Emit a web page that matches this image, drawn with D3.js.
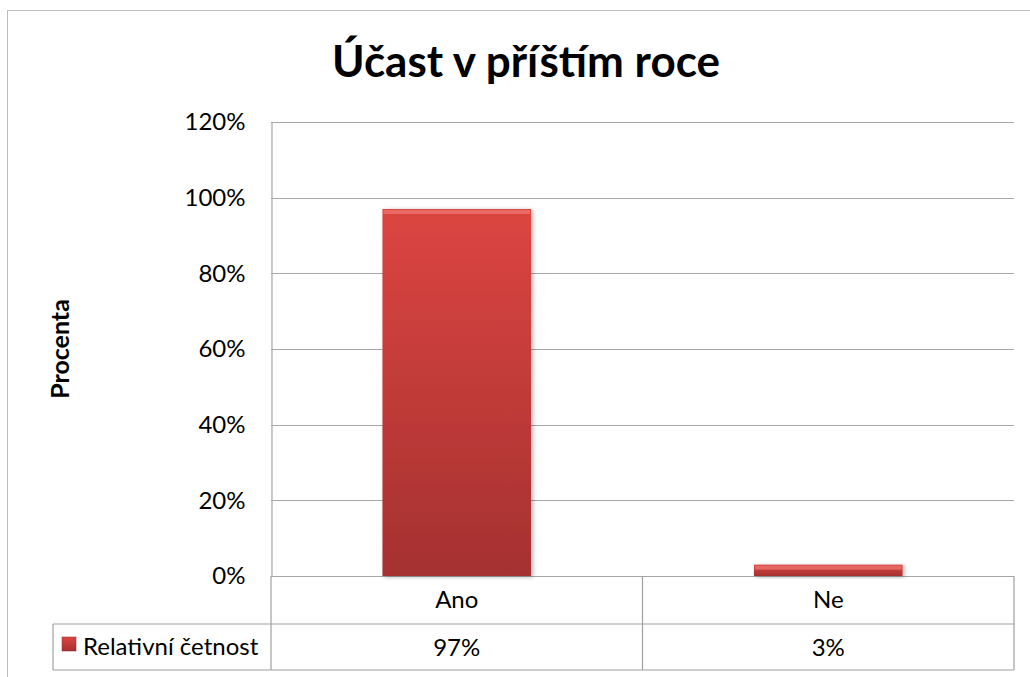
<!DOCTYPE html>
<html>
<head>
<meta charset="utf-8">
<script src="https://cdn.jsdelivr.net/npm/d3@7"></script>
<style>
  body { margin: 0; background: #fff; }
  svg text { font-family: Lato, "Open Sans", sans-serif; fill: #000; }
</style>
</head>
<body>
<script>
// data
const categories = ["Ano", "Ne"];
const values = [0.97, 0.03];
const valueLabels = ["97%", "3%"];
const seriesName = "Relativní četnost";
const yTicks = [0, 0.2, 0.4, 0.6, 0.8, 1.0, 1.2];

const width = 1030, height = 677;
const plot = { left: 271, right: 1014, top: 122, bottom: 576 };
const rowH = 46;

const svg = d3.select("body").append("svg")
  .attr("width", width)
  .attr("height", height);

const defs = svg.append("defs");
const grad = defs.append("linearGradient")
  .attr("id", "barGrad").attr("x1", 0).attr("y1", 0).attr("x2", 0).attr("y2", 1);
grad.append("stop").attr("offset", "0%").attr("stop-color", "#dc4541");
grad.append("stop").attr("offset", "100%").attr("stop-color", "#a53131");

const shadow = defs.append("filter").attr("id", "shadow")
  .attr("x", "-10%").attr("y", "-10%").attr("width", "130%").attr("height", "130%");
shadow.append("feDropShadow")
  .attr("dx", 2).attr("dy", 1).attr("stdDeviation", 2)
  .attr("flood-color", "#000").attr("flood-opacity", 0.3);

// outer frame (mostly clipped)
svg.append("rect")
  .attr("x", 7.5).attr("y", 10.5)
  .attr("width", 1200).attr("height", 1200)
  .attr("fill", "none").attr("stroke", "#bdbdbd");

const x = d3.scaleBand()
  .domain(categories)
  .range([plot.left, plot.right])
  .paddingInner(0.6).paddingOuter(0.3);

const xCell = d3.scaleBand()
  .domain(categories)
  .range([plot.left, plot.right]);

const y = d3.scaleLinear()
  .domain([0, 1.2])
  .range([plot.bottom, plot.top]);

// gridlines
svg.append("g")
  .selectAll("line")
  .data(yTicks)
  .join("line")
  .attr("x1", plot.left).attr("x2", plot.right)
  .attr("y1", d => Math.round(y(d)) + 0.5)
  .attr("y2", d => Math.round(y(d)) + 0.5)
  .attr("stroke", "#a6a6a6").attr("stroke-width", 1.2);

// y axis
const yAxis = svg.append("g")
  .attr("transform", `translate(${plot.left + 0.5},0)`)
  .call(d3.axisLeft(y).tickValues(yTicks).tickFormat(d3.format(".0%")).tickSize(0).tickPadding(26));
yAxis.select(".domain").attr("stroke", "#a6a6a6").attr("stroke-width", 1.2);
yAxis.selectAll("text")
  .style("font-size", "24px")
  .style("font-family", "Lato, 'Open Sans', sans-serif");

// bars
const bars = svg.append("g").selectAll("g")
  .data(values)
  .join("g");

bars.append("rect")
  .attr("x", (d, i) => x(categories[i]))
  .attr("y", d => y(d))
  .attr("width", x.bandwidth())
  .attr("height", d => y(0) - y(d))
  .attr("fill", "url(#barGrad)")
  .attr("filter", "url(#shadow)");

// bevel highlight on top edge
bars.append("rect")
  .attr("x", (d, i) => x(categories[i]) + 1)
  .attr("y", d => y(d) + 1)
  .attr("width", x.bandwidth() - 2)
  .attr("height", d => Math.min(4, y(0) - y(d) - 2))
  .attr("fill", "#f07a74")
  .attr("opacity", 0.7);

// data table
const table = svg.append("g")
  .attr("fill", "none")
  .attr("stroke", "#a0a0a0")
  .attr("stroke-width", 1.2);

const tableTop = plot.bottom, rowMid = tableTop + rowH + 2, tableBottom = rowMid + rowH;
const legendLeft = 53;

table.append("line").attr("x1", plot.left).attr("x2", plot.left).attr("y1", tableTop).attr("y2", tableBottom);
table.append("line").attr("x1", plot.right).attr("x2", plot.right).attr("y1", tableTop).attr("y2", tableBottom);
table.append("line").attr("x1", xCell("Ne")).attr("x2", xCell("Ne")).attr("y1", tableTop).attr("y2", tableBottom);
table.append("line").attr("x1", legendLeft).attr("x2", plot.right).attr("y1", rowMid).attr("y2", rowMid);
table.append("line").attr("x1", legendLeft).attr("x2", plot.right).attr("y1", tableBottom).attr("y2", tableBottom);
table.append("line").attr("x1", legendLeft).attr("x2", legendLeft).attr("y1", rowMid).attr("y2", tableBottom);

svg.append("g").selectAll("text")
  .data(categories)
  .join("text")
  .attr("x", d => xCell(d) + xCell.bandwidth() / 2)
  .attr("y", tableTop + rowH / 2 + 9)
  .attr("text-anchor", "middle")
  .style("font-size", "24px")
  .text(d => d);

svg.append("g").selectAll("text")
  .data(valueLabels)
  .join("text")
  .attr("x", (d, i) => xCell(categories[i]) + xCell.bandwidth() / 2)
  .attr("y", rowMid + rowH / 2 + 9)
  .attr("text-anchor", "middle")
  .style("font-size", "24px")
  .text(d => d);

// legend key
svg.append("rect")
  .attr("x", 62).attr("y", 637)
  .attr("width", 14).attr("height", 14)
  .attr("fill", "url(#barGrad)")
  .attr("stroke", "#8a2a2a").attr("stroke-width", 0.5);

svg.append("text")
  .attr("x", 83).attr("y", rowMid + rowH / 2 + 8)
  .style("font-size", "24px")
  .text(seriesName);

// title
svg.append("text")
  .attr("x", 526).attr("y", 77)
  .attr("text-anchor", "middle")
  .style("font-size", "44px")
  .style("font-weight", "bold")
  .text("Účast v příštím roce");

// y axis title
svg.append("text")
  .attr("transform", `translate(69,${(plot.top + plot.bottom) / 2}) rotate(-90)`)
  .attr("text-anchor", "middle")
  .style("font-size", "25px")
  .style("font-weight", "bold")
  .text("Procenta");
</script>
</body>
</html>
